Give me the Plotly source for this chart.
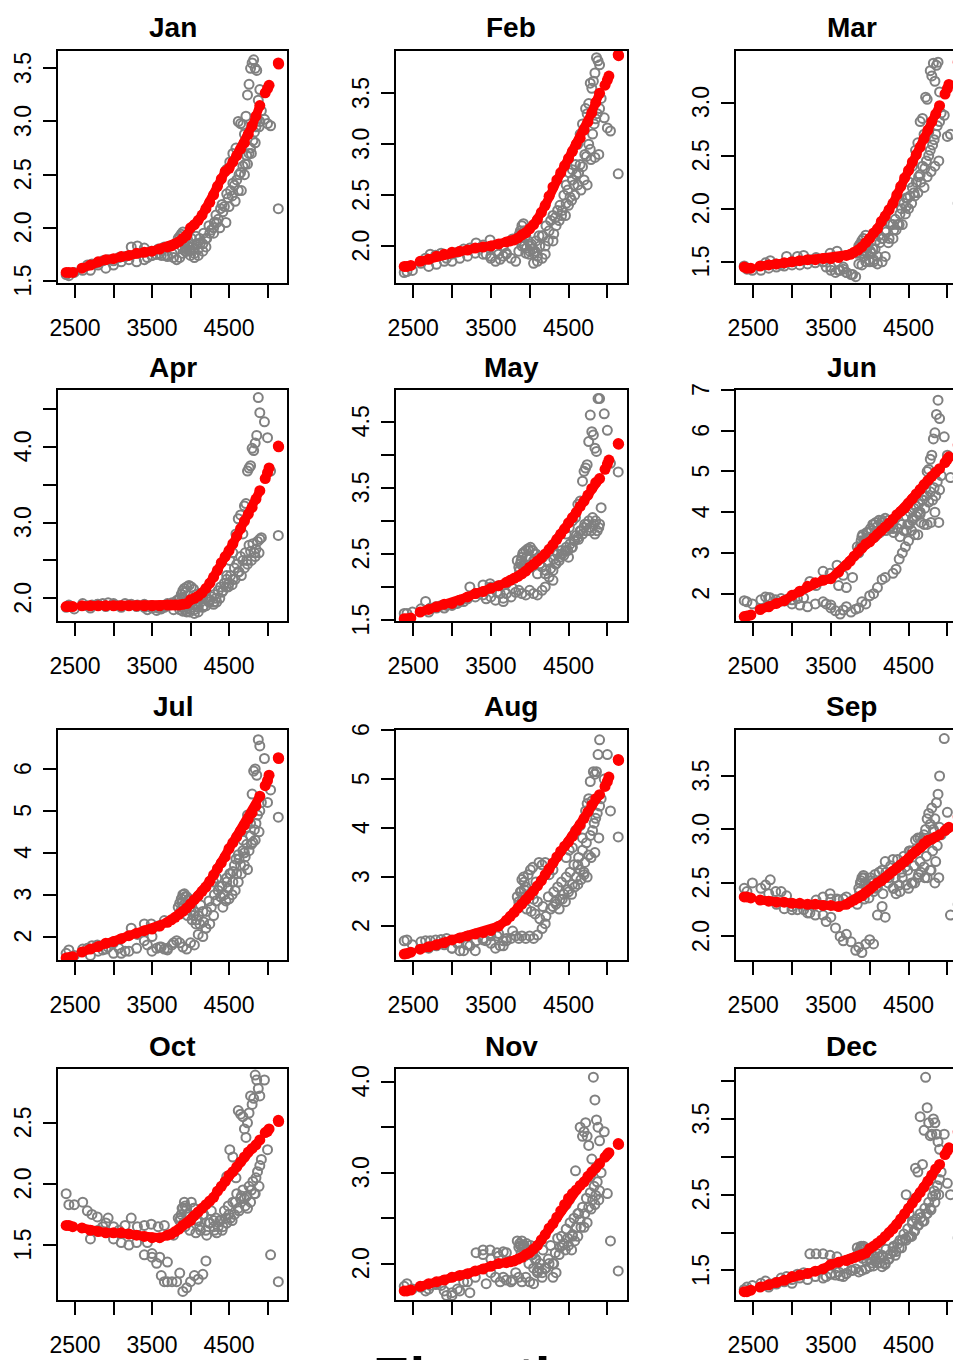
import plotly.graph_objects as go

months = ["Jan","Feb","Mar","Apr","May","Jun","Jul","Aug","Sep","Oct","Nov","Dec"]

elev_obs = [2385,2420,2490,2600,2660,2720,2790,2860,2930,3000,3070,3150,3230,3310,3400,3490,3580,3660,
            2700,2800,2900,3000,3100,3200,3300,3400,3500,3600,3700,3780,
            3440,3500,3560,3620,3660,3700,3760,3820,3860,3900,3950,4000,4050,4100,4160,4200,
            3860,3880,3900,3920,3950,3980,4010,4040,4080,4120,4160,4200,4250,4300,3840,3930,
            4300,4340,4380,4420,4460,4500,4540,4580,4620,4660,4700,4740,4790,4840,4890,
            4470,4510,4550,4590,4620,4650,4680,4700,4720,4740,4760,4780,4800,4820,4840,4860,4880,4900,
            4960,5000,5040,5140]

obs_jan = [1.56,1.55,1.58,1.60,1.65,1.66,1.67,1.69,1.70,1.69,1.72,1.73,1.82,1.83,1.81,1.78,1.80,1.82,
           1.60,1.65,1.62,1.65,1.68,1.70,1.68,1.70,1.74,1.76,1.74,1.72,
           1.72,1.74,1.75,1.74,1.74,1.73,1.76,1.70,1.72,1.76,1.78,1.74,1.72,1.74,1.78,1.82,
           1.92,1.94,1.96,1.85,1.80,1.85,1.90,1.80,1.85,1.90,1.85,1.90,1.95,2.00,1.90,1.82,
           1.95,2.05,2.0,2.15,2.05,2.2,2.3,2.25,2.35,2.35,2.5,2.6,2.7,2.8,2.95,
           2.55,2.62,2.7,2.75,3.0,2.98,2.97,2.88,3.05,3.25,3.35,3.5,3.55,3.58,3.5,3.48,3.2,3.3,
           3.02,2.98,2.96,2.18]
obs_feb = [1.74,1.75,1.76,1.83,1.88,1.92,1.91,1.93,1.88,1.92,1.94,1.97,1.98,2.03,2.01,2.06,1.95,1.99,
           1.80,1.82,1.85,1.85,1.88,1.90,1.93,1.92,1.90,1.92,1.93,2.07,
           1.92,1.88,1.85,1.87,1.90,1.92,1.88,1.85,1.95,2.0,1.93,1.95,1.83,1.85,1.88,1.92,
           2.1,2.15,2.2,2.22,2.1,2.05,2.0,1.97,2.05,2.1,2.1,2.0,2.15,2.3,2.08,2.15,
           2.05,2.2,2.25,2.35,2.3,2.4,2.45,2.5,2.6,2.55,2.65,2.6,2.85,2.87,2.9,
           2.6,2.72,2.75,2.8,3.0,3.1,3.2,3.15,3.35,3.3,3.4,3.6,3.55,3.62,3.7,3.85,3.82,3.78,
           3.26,3.16,3.13,2.71]
obs_mar = [1.46,1.43,1.42,1.42,1.49,1.51,1.48,1.47,1.55,1.50,1.55,1.56,1.52,1.54,1.50,1.58,1.60,1.45,
           1.44,1.45,1.46,1.47,1.47,1.48,1.49,1.50,1.45,1.42,1.40,1.38,
           1.45,1.42,1.40,1.42,1.43,1.40,1.38,1.36,1.48,1.47,1.50,1.50,1.52,1.48,1.50,1.55,
           1.65,1.67,1.70,1.72,1.75,1.65,1.6,1.62,1.7,1.75,1.72,1.8,1.72,1.85,1.58,1.6,
           1.72,1.8,1.85,1.85,1.95,2.0,2.05,2.12,2.15,2.25,2.2,2.3,2.35,2.4,2.45,
           2.1,2.25,2.4,2.55,2.62,2.82,2.85,2.7,3.05,3.03,2.72,3.3,3.25,3.37,3.2,3.35,3.38,3.1,
           2.88,2.68,2.7,2.05]
obs_apr = [1.88,1.91,1.86,1.93,1.90,1.91,1.92,1.93,1.94,1.92,1.90,1.93,1.92,1.91,1.92,1.90,1.87,1.89,
           1.87,1.92,1.89,1.93,1.88,1.91,1.89,1.88,1.90,1.87,1.93,1.85,
           1.85,1.87,1.84,1.86,1.88,1.90,1.94,1.97,1.85,1.83,1.82,1.85,1.80,1.82,1.88,1.90,
           2.0,2.05,2.1,2.13,2.15,2.17,2.15,2.12,2.05,2.0,2.0,2.0,1.98,1.95,1.98,2.08,
           1.92,1.95,2.0,2.1,2.15,2.2,2.18,2.25,2.35,2.3,2.4,2.45,2.5,2.55,2.6,
           2.3,2.5,2.6,2.85,3.05,3.1,2.85,3.22,3.25,3.68,3.72,3.75,3.98,3.95,4.05,4.15,4.65,4.45,
           4.33,4.12,3.68,2.83]
obs_may = [1.6,1.6,1.62,1.67,1.78,1.68,1.70,1.72,1.72,1.73,1.75,1.78,2.0,1.9,2.03,2.05,1.92,1.83,
           1.62,1.68,1.68,1.72,1.78,1.82,1.85,1.88,2.0,2.02,2.05,1.98,
           1.82,1.85,1.8,1.9,1.78,1.9,1.85,1.92,1.95,1.9,1.88,1.95,1.9,1.88,1.95,2.0,
           2.3,2.35,2.45,2.52,2.55,2.58,2.6,2.55,2.5,2.45,2.3,2.2,2.15,2.1,2.4,2.3,
           2.25,2.35,2.4,2.5,2.55,2.45,2.6,2.7,2.75,2.85,2.9,2.95,2.85,2.8,2.9,
           2.8,2.9,3.0,3.05,3.25,3.3,3.6,3.75,3.8,3.85,4.2,4.6,4.35,4.3,4.1,4.05,4.85,4.85,
           4.62,4.37,3.87,3.74]
obs_jun = [1.83,1.8,1.75,1.85,1.92,1.9,1.85,1.88,1.85,1.85,1.88,1.9,2.3,2.2,2.55,2.5,2.7,2.45,
           1.9,1.78,1.82,1.75,1.72,1.68,1.75,1.8,1.72,2.2,2.15,2.4,
           1.75,1.65,1.58,1.5,1.6,1.68,1.55,1.62,1.65,1.8,1.75,1.95,2.0,2.15,2.35,2.4,
           3.0,3.15,3.4,3.2,3.3,3.5,3.6,3.7,3.75,3.8,3.8,3.85,3.6,3.6,3.15,3.3,
           2.5,2.6,2.85,3.0,3.15,3.3,3.55,3.45,3.45,3.75,3.7,3.7,3.75,4.0,3.75,
           3.55,3.7,3.85,4.15,4.0,3.95,4.3,4.4,4.6,5.0,5.05,5.3,5.4,5.8,5.95,6.4,6.75,6.3,
           5.85,5.4,4.85,4.85]
obs_jul = [1.6,1.68,1.55,1.7,1.72,1.78,1.8,1.68,1.75,1.85,1.72,1.65,2.2,2.05,2.3,2.3,2.25,2.38,
           1.55,1.65,1.7,1.6,1.6,1.65,1.72,1.9,2.0,1.75,1.72,1.85,
           1.8,1.65,1.72,1.75,1.7,1.68,1.8,1.9,1.85,1.75,1.7,1.85,1.8,2.05,2.0,2.2,
           2.8,2.9,3.0,3.02,2.95,2.9,2.6,2.5,2.4,2.3,2.6,2.2,2.3,2.5,2.7,2.8,
           3.3,3.4,3.2,2.7,2.85,2.9,3.0,3.1,3.3,3.5,3.7,3.6,4.2,4.3,4.5,
           3.4,3.5,3.55,3.85,3.95,4.5,4.3,4.0,4.6,4.9,4.8,4.7,5.4,5.95,6.0,5.85,6.7,6.55,
           6.25,5.2,5.5,4.85]
obs_aug = [1.7,1.72,1.62,1.68,1.7,1.7,1.72,1.73,1.75,1.55,1.65,1.5,1.6,1.7,1.75,1.85,1.8,1.6,
           1.55,1.6,1.62,1.55,1.5,1.62,1.5,1.72,1.8,1.85,1.7,1.9,
           1.7,1.65,1.55,1.6,1.7,1.75,1.75,1.8,1.75,1.8,1.75,1.8,1.75,1.82,1.95,2.05,
           2.5,2.7,2.95,3.0,2.8,3.05,3.15,3.2,2.9,3.3,3.25,3.3,3.05,3.15,2.6,2.75,
           2.4,2.45,2.35,2.55,2.5,2.7,2.65,2.8,2.85,2.95,3.05,3.0,3.4,3.5,3.8,
           3.4,3.55,3.6,3.95,3.25,4.05,3.8,3.1,4.35,4.5,4.6,4.95,4.55,5.15,5.1,5.15,5.5,5.8,
           5.0,5.5,4.35,3.82]
obs_sep = [2.45,2.42,2.5,2.45,2.48,2.53,2.42,2.42,2.38,2.28,2.25,2.25,2.22,2.34,2.37,2.40,2.35,2.35,
           2.4,2.3,2.26,2.25,2.3,2.22,2.2,2.2,2.35,2.34,2.37,2.34,
           2.14,2.18,2.08,2.0,1.96,2.02,1.95,1.87,1.9,1.85,1.93,1.97,1.93,2.2,2.28,2.18,
           2.45,2.5,2.55,2.57,2.5,2.45,2.55,2.5,2.45,2.6,2.62,2.7,2.55,2.45,2.3,2.35,
           2.72,2.4,2.48,2.55,2.65,2.45,2.5,2.5,2.55,2.6,2.65,2.55,2.62,2.5,2.55,
           2.7,2.8,2.8,2.9,2.92,2.92,2.9,2.95,3.0,3.1,3.15,3.05,3.2,3.0,3.1,3.25,3.33,3.5,
           3.85,3.16,2.2,2.3]
obs_oct = [1.92,1.83,1.83,1.85,1.78,1.75,1.73,1.65,1.72,1.65,1.62,1.66,1.72,1.65,1.66,1.67,1.65,1.66,
           1.55,1.62,1.68,1.55,1.52,1.50,1.52,1.42,1.43,1.40,1.36,1.58,
           1.52,1.4,1.35,1.25,1.2,1.2,1.2,1.2,1.27,1.12,1.15,1.2,1.25,1.22,1.26,1.37,
           1.7,1.75,1.8,1.85,1.8,1.75,1.85,1.8,1.7,1.65,1.75,1.62,1.68,1.7,1.72,1.65,
           1.65,1.6,1.7,1.65,1.72,1.75,1.7,1.85,1.8,1.9,1.88,1.8,1.95,1.92,1.98,
           2.06,2.28,2.22,2.05,2.6,2.57,2.55,2.45,2.38,2.5,2.58,2.72,2.65,2.7,2.89,2.85,2.78,2.72,
           2.85,2.28,1.42,1.2]
obs_nov = [1.75,1.78,1.72,1.74,1.7,1.76,1.77,1.76,1.65,1.68,1.72,1.8,1.68,2.12,2.15,2.15,2.12,2.13,
           1.72,1.78,1.7,1.65,1.7,1.8,1.85,2.1,2.05,2.08,2.12,1.82,
           1.78,1.9,1.85,1.8,1.85,1.82,1.8,1.9,1.85,1.8,1.85,1.8,1.78,1.9,1.85,1.95,
           2.18,2.2,2.25,2.2,2.15,2.1,2.2,2.1,2.05,1.95,1.9,1.95,2.0,1.85,2.25,2.2,
           2.0,1.9,2.1,2.2,2.15,2.2,2.15,2.25,2.3,2.4,2.4,2.45,2.6,2.65,2.7,
           2.65,2.7,2.3,3.02,2.55,3.5,3.4,3.45,3.55,3.4,3.3,2.95,3.15,4.05,3.8,3.58,3.5,3.35,
           3.45,2.77,2.25,1.92]
obs_dec = [1.25,1.28,1.3,1.33,1.36,1.32,1.34,1.4,1.42,1.38,1.45,1.47,1.72,1.72,1.72,1.7,1.68,1.55,
           1.28,1.32,1.35,1.33,1.4,1.38,1.42,1.4,1.45,1.48,1.46,1.5,
           1.42,1.46,1.44,1.43,1.42,1.46,1.5,1.52,1.48,1.5,1.52,1.55,1.56,1.6,1.55,1.58,
           1.75,1.78,1.8,1.82,1.75,1.72,1.65,1.7,1.65,1.68,1.7,1.6,1.65,1.75,1.8,1.7,
           1.8,1.75,1.8,1.9,1.92,1.95,1.95,2.02,2.1,2.2,2.15,2.25,2.3,2.4,2.5,
           2.5,2.25,2.15,2.85,2.8,3.53,2.9,3.35,4.05,3.65,3.45,3.28,3.3,3.5,3.45,3.3,3.2,3.1,
           3.3,2.65,2.5,1.93]

elev_dense = [3870,3890,3910,3930,3960,3990,4020,4050,4070,4100,4130,4170,4210,4240,4270,4310,4330,4360,4390,4410,
              4440,4470,4490,4520,4550,4570,4600,4630,4650,4680,4710,4730,4760,4780,4810,4830,4850,4870,4900,4920]
dense_jan = [1.88,1.82,1.90,1.78,1.84,1.78,1.82,1.76,1.92,1.80,1.86,1.95,1.90,2.02,1.98,2.05,2.12,2.08,2.18,2.22,
             2.2,2.32,2.28,2.35,2.42,2.4,2.45,2.5,2.52,2.58,2.6,2.68,2.7,2.75,2.82,2.9,2.95,3.02,3.0,3.1]
dense_feb = [2.12,2.05,2.1,2.0,1.98,1.92,2.02,1.93,1.95,1.9,2.0,2.1,2.2,2.05,2.25,2.12,2.28,2.35,2.4,2.3,
             2.5,2.42,2.55,2.48,2.65,2.6,2.7,2.72,2.8,2.78,2.9,2.88,3.0,2.95,3.1,3.2,3.25,3.3,3.35,3.45]
dense_mar = [1.62,1.58,1.66,1.55,1.6,1.52,1.58,1.5,1.62,1.55,1.68,1.72,1.78,1.68,1.85,1.8,1.9,1.85,1.95,2.0,
             2.05,2.02,2.1,2.12,2.2,2.15,2.25,2.3,2.32,2.4,2.38,2.45,2.5,2.55,2.6,2.65,2.7,2.78,2.82,2.9]
dense_apr = [1.95,1.88,2.0,1.85,1.9,1.82,1.88,1.85,1.92,1.88,1.95,1.9,2.0,1.95,2.02,2.05,2.0,2.1,2.15,2.08,
             2.2,2.25,2.15,2.3,2.25,2.4,2.45,2.35,2.55,2.5,2.6,2.5,2.7,2.62,2.72,2.6,2.65,2.75,2.78,2.8]
dense_may = [2.25,2.4,2.5,2.35,2.45,2.55,2.3,2.4,2.5,2.2,2.35,2.45,2.25,2.38,2.28,2.42,2.35,2.5,2.45,2.55,
             2.48,2.6,2.55,2.65,2.6,2.7,2.78,2.72,2.85,2.8,2.95,2.85,3.0,2.9,3.05,2.95,3.0,2.85,2.95,3.2]
dense_jun = [3.1,3.3,3.45,3.25,3.5,3.35,3.55,3.7,3.4,3.65,3.5,3.75,3.55,3.8,3.65,3.5,3.85,3.6,3.4,3.7,
             3.55,3.9,3.7,4.0,3.8,4.1,3.9,4.2,4.0,4.3,4.1,4.4,4.25,4.5,4.3,4.6,4.4,4.75,4.55,4.9]
dense_jul = [2.6,2.8,2.75,2.95,2.5,2.7,2.4,2.6,2.3,2.5,2.75,2.35,2.6,2.85,2.7,3.0,2.85,3.1,2.95,3.2,
             3.0,3.3,3.15,3.5,3.3,3.7,3.5,3.85,3.7,4.05,3.9,4.2,4.05,4.4,4.25,4.55,4.7,4.9,5.0,5.2]
dense_aug = [2.45,2.7,2.6,2.9,2.35,2.65,2.3,2.55,2.25,2.5,2.15,2.4,2.2,2.6,2.35,2.7,2.5,2.8,2.55,2.9,
             2.65,3.0,2.75,3.1,2.85,3.25,3.0,3.4,3.15,3.55,3.3,3.7,3.45,3.85,3.95,4.1,4.2,4.3,4.45,4.6]
dense_sep = [2.42,2.52,2.38,2.55,2.46,2.36,2.52,2.42,2.58,2.46,2.52,2.4,2.6,2.5,2.66,2.45,2.55,2.72,2.42,2.6,
             2.75,2.48,2.62,2.8,2.5,2.66,2.82,2.58,2.7,2.88,2.55,2.75,2.9,2.62,2.8,2.98,2.7,2.85,3.02,2.95]
dense_oct = [1.72,1.8,1.68,1.82,1.75,1.62,1.72,1.8,1.6,1.7,1.62,1.75,1.58,1.68,1.78,1.62,1.72,1.65,1.7,1.62,
             1.78,1.68,1.82,1.72,1.85,1.75,1.92,1.78,1.88,1.95,1.82,1.9,1.98,1.85,2.02,1.92,2.05,2.1,2.15,2.2]
dense_nov = [2.22,2.12,2.18,2.08,2.22,2.0,2.1,1.95,2.05,1.92,2.0,2.15,1.95,2.05,2.2,2.0,2.12,2.28,2.18,2.3,
             2.22,2.38,2.28,2.45,2.32,2.5,2.4,2.55,2.48,2.62,2.55,2.72,2.62,2.78,2.7,2.85,2.75,2.9,2.8,3.0]
dense_dec = [1.72,1.82,1.66,1.78,1.62,1.72,1.6,1.68,1.62,1.72,1.6,1.68,1.78,1.65,1.72,1.82,1.7,1.85,1.9,1.8,
             1.98,1.9,2.05,1.95,2.12,2.02,2.18,2.1,2.25,2.15,2.32,2.25,2.4,2.32,2.48,2.55,2.5,2.62,2.7,2.8]

elev_fit = [2385,2420,2470,None,
            2590,2700,2800,2900,3000,3100,3200,3300,3400,3500,3600,3700,3750,3800,3850,3900,3950,
            4000,4050,4100,4150,4200,4250,4300,4350,4400,4450,4500,4550,4600,4650,4700,4750,4800,4850,4900,None,
            4970,5000,5020,None,5140,5145]

fit_jan = [1.58,1.58,1.58,None,1.62,1.65,1.68,1.70,1.71,1.73,1.74,1.76,1.77,1.78,1.80,1.82,1.83,1.85,1.87,1.90,1.93,
           2.00,2.03,2.07,2.12,2.18,2.24,2.31,2.39,2.46,2.53,2.56,2.62,2.68,2.74,2.80,2.88,2.96,3.05,3.15,None,3.27,3.31,3.34,None,3.55,3.54]
fit_feb = [1.80,1.80,1.81,None,1.85,1.87,1.90,1.92,1.94,1.95,1.96,1.98,1.99,2.00,2.02,2.04,2.05,2.06,2.08,2.11,2.13,
           2.17,2.21,2.26,2.33,2.40,2.49,2.58,2.65,2.72,2.79,2.86,2.93,3.00,3.06,3.14,3.22,3.31,3.41,3.50,None,3.58,3.63,3.67,None,3.88,3.87]
fit_mar = [1.45,1.44,1.44,None,1.46,1.47,1.48,1.49,1.50,1.51,1.52,1.52,1.53,1.53,1.54,1.56,1.57,1.59,1.61,1.64,1.68,
           1.72,1.77,1.81,1.88,1.93,1.99,2.05,2.13,2.21,2.29,2.36,2.44,2.51,2.58,2.66,2.74,2.82,2.89,2.97,None,3.08,3.13,3.17,None,3.38,3.37]
fit_apr = [1.89,1.89,1.89,None,1.90,1.90,1.90,1.90,1.90,1.90,1.90,1.90,1.90,1.90,1.90,1.91,1.91,1.91,1.91,1.92,1.93,
           1.98,2.00,2.03,2.07,2.13,2.20,2.28,2.37,2.47,2.55,2.63,2.72,2.82,2.92,3.02,3.11,3.20,3.31,3.42,None,3.58,3.66,3.72,None,4.01,4.00]
fit_may = [1.52,1.52,1.53,None,1.62,1.66,1.70,1.74,1.75,1.80,1.85,1.90,1.93,1.98,2.02,2.07,2.10,2.13,2.16,2.20,2.24,
           2.30,2.34,2.39,2.44,2.50,2.57,2.64,2.72,2.80,2.88,2.97,3.05,3.13,3.22,3.30,3.39,3.49,3.58,3.64,None,3.78,3.86,3.92,None,4.17,4.16]
fit_jun = [1.44,1.45,1.48,None,1.61,1.68,1.76,1.83,1.96,2.06,2.18,2.27,2.33,2.37,2.53,2.70,2.80,2.92,3.02,3.12,3.22,
           3.27,3.37,3.46,3.55,3.64,3.73,3.83,3.94,4.02,4.10,4.22,4.33,4.45,4.56,4.68,4.78,4.88,4.98,5.07,None,5.22,5.30,5.36,None,5.65,5.64]
fit_jul = [1.49,1.50,1.52,None,1.63,1.70,1.76,1.84,1.88,1.95,2.02,2.08,2.14,2.18,2.25,2.34,2.40,2.46,2.53,2.60,2.68,
           2.78,2.88,2.97,3.08,3.18,3.32,3.47,3.62,3.76,3.90,4.10,4.24,4.38,4.52,4.66,4.80,4.95,5.12,5.35,None,5.60,5.72,5.85,None,6.27,6.25]
fit_aug = [1.43,1.44,1.47,None,1.53,1.58,1.62,1.66,1.72,1.76,1.80,1.84,1.87,1.91,2.00,2.12,2.20,2.28,2.37,2.45,2.54,
           2.63,2.72,2.82,2.93,3.05,3.17,3.29,3.41,3.53,3.63,3.72,3.83,3.95,4.07,4.20,4.33,4.47,4.60,4.68,None,4.85,4.95,5.04,None,5.40,5.38]
fit_sep = [2.37,2.37,2.36,None,2.34,2.33,2.32,2.32,2.31,2.31,2.30,2.30,2.29,2.29,2.28,2.30,2.32,2.34,2.36,2.38,2.41,
           2.44,2.47,2.50,2.52,2.55,2.58,2.61,2.64,2.67,2.70,2.73,2.77,2.80,2.83,2.87,2.90,2.91,2.93,2.95,None,2.99,3.01,3.02,None,3.12,3.11]
fit_oct = [1.66,1.66,1.65,None,1.64,1.62,1.61,1.60,1.60,1.60,1.59,1.58,1.57,1.56,1.56,1.58,1.59,1.61,1.63,1.66,1.68,
           1.70,1.74,1.77,1.80,1.83,1.86,1.89,1.94,1.98,2.02,2.07,2.10,2.14,2.18,2.22,2.26,2.29,2.32,2.36,None,2.42,2.43,2.45,None,2.52,2.51]
fit_nov = [1.70,1.70,1.71,None,1.75,1.78,1.80,1.82,1.85,1.87,1.89,1.92,1.94,1.97,2.00,2.01,2.02,2.03,2.05,2.07,2.10,
           2.12,2.16,2.20,2.26,2.32,2.39,2.44,2.51,2.58,2.65,2.72,2.77,2.81,2.86,2.90,2.96,3.01,3.05,3.10,None,3.17,3.20,3.22,None,3.32,3.31]
fit_dec = [1.22,1.22,1.24,None,1.28,1.31,1.34,1.37,1.42,1.44,1.46,1.49,1.52,1.58,1.61,1.63,1.65,1.67,1.69,1.71,1.73,
           1.79,1.82,1.86,1.90,1.95,2.00,2.05,2.11,2.18,2.25,2.32,2.39,2.46,2.53,2.60,2.68,2.76,2.84,2.90,None,3.03,3.08,3.12,None,3.33,3.32]

obs_all = [obs_jan,obs_feb,obs_mar,obs_apr,obs_may,obs_jun,obs_jul,obs_aug,obs_sep,obs_oct,obs_nov,obs_dec]
dense_all = [dense_jan,dense_feb,dense_mar,dense_apr,dense_may,dense_jun,dense_jul,dense_aug,dense_sep,dense_oct,dense_nov,dense_dec]
fit_all = [fit_jan,fit_feb,fit_mar,fit_apr,fit_may,fit_jun,fit_jul,fit_aug,fit_sep,fit_oct,fit_nov,fit_dec]
for m, o, d, f in zip(months, obs_all, dense_all, fit_all):
    assert len(o) == len(elev_obs), (m, "obs", len(o), len(elev_obs))
    assert len(d) == len(elev_dense), (m, "dense", len(d), len(elev_dense))
    assert len(f) == len(elev_fit), (m, "fit", len(f), len(elev_fit))

y_ranges = [[1.481,3.663],[1.637,3.916],[1.30,3.485],[1.70,4.75],[1.485,4.98],[1.33,7.0],
            [1.44,6.93],[1.31,6.0],[1.78,3.93],[1.05,2.94],[1.60,4.14],[1.11,4.16]]
y_ticks = [[1.5,2,2.5,3,3.5],[2,2.5,3,3.5],[1.5,2,2.5,3],[2,2.5,3,3.5,4,4.5],[1.5,2,2.5,3,3.5,4,4.5],[2,3,4,5,6,7],
           [2,3,4,5,6],[2,3,4,5,6],[2,2.5,3,3.5],[1.5,2,2.5],[2,2.5,3,3.5,4],[1.5,2,2.5,3,3.5,4]]
y_labels = [["1.5","2.0","2.5","3.0","3.5"],["2.0","2.5","3.0","3.5"],["1.5","2.0","2.5","3.0"],
            ["2.0","","3.0","","4.0",""],["1.5","","2.5","","3.5","","4.5"],["2","3","4","5","6","7"],
            ["2","3","4","5","6"],["2","3","4","5","6"],["2.0","2.5","3.0","3.5"],["1.5","2.0","2.5"],
            ["2.0","","3.0","","4.0"],["1.5","","2.5","","3.5",""]]
x_ticks = [2500,3000,3500,4000,4500,5000]
x_labels = ["2500","","3500","","4500",""]
x_labels_blank = ["","","","","",""]  # November shows ticks without labels

W, H = 1000, 1420
col_px = [(58,287),(396,627),(736,967)]
row_px = [(51,283),(390,621),(730,960),(1069,1300)]
title_y = [28,367,706,1046]
FONT = "Liberation Sans"

fig = go.Figure()
layout = {}
annotations = []
for i, m in enumerate(months):
    r, c = divmod(i, 3)
    n = i + 1
    xa, ya = ("x%d" % n, "y%d" % n)
    fig.add_trace(go.Scatter(x=elev_obs+elev_dense, y=obs_all[i]+dense_all[i], xaxis=xa, yaxis=ya, mode="markers", showlegend=False,
                             marker=dict(symbol="circle-open", size=9, color="#808080", line=dict(width=2, color="#808080"))))
    fig.add_trace(go.Scatter(x=elev_fit, y=fit_all[i], xaxis=xa, yaxis=ya, mode="lines+markers", showlegend=False,
                             connectgaps=False, line=dict(color="#ff0000", width=9),
                             marker=dict(symbol="circle", size=11, color="#ff0000")))
    x0, x1 = col_px[c]
    y0, y1 = row_px[r]
    common = dict(showgrid=False, zeroline=False, showline=True, mirror=True, linecolor="black", linewidth=2,
                  ticks="outside", ticklen=13, tickwidth=2, tickcolor="black", tickmode="array",
                  tickfont=dict(family=FONT, size=23, color="black"))
    layout["xaxis%d" % n] = dict(common, domain=[x0/W, x1/W], range=[2279, 5253], anchor=ya,
                                 tickvals=x_ticks, ticktext=x_labels_blank if m == "Nov" else x_labels,
                                 ticklabelstandoff=10, tickangle=0)
    layout["yaxis%d" % n] = dict(common, domain=[1-y1/H, 1-y0/H], range=y_ranges[i], anchor=xa,
                                 tickvals=y_ticks[i], ticktext=y_labels[i], tickangle=-90, ticklabelstandoff=3,
                                 ticklabelshift=3)
    annotations.append(dict(text="<b>%s</b>" % m, xref="paper", yref="paper", x=(x0+x1)/2/W, y=1-title_y[r]/H,
                            xanchor="center", yanchor="middle", showarrow=False,
                            font=dict(family=FONT, size=28, color="black")))

annotations.append(dict(text="<b>Elevation</b>", xref="paper", yref="paper", x=495/W, y=1-1377/H,
                        xanchor="center", yanchor="middle", showarrow=False,
                        font=dict(family=FONT, size=55, color="black")))

fig.update_layout(width=W, height=H, margin=dict(l=0, r=0, t=0, b=0, autoexpand=False), paper_bgcolor="white", plot_bgcolor="white",
                  annotations=annotations, **layout)
fig.write_html("out.html", config=dict(displayModeBar=False),
               post_script="document.documentElement.style.overflow='hidden';document.body.style.overflow='hidden';document.body.style.margin='0';")
